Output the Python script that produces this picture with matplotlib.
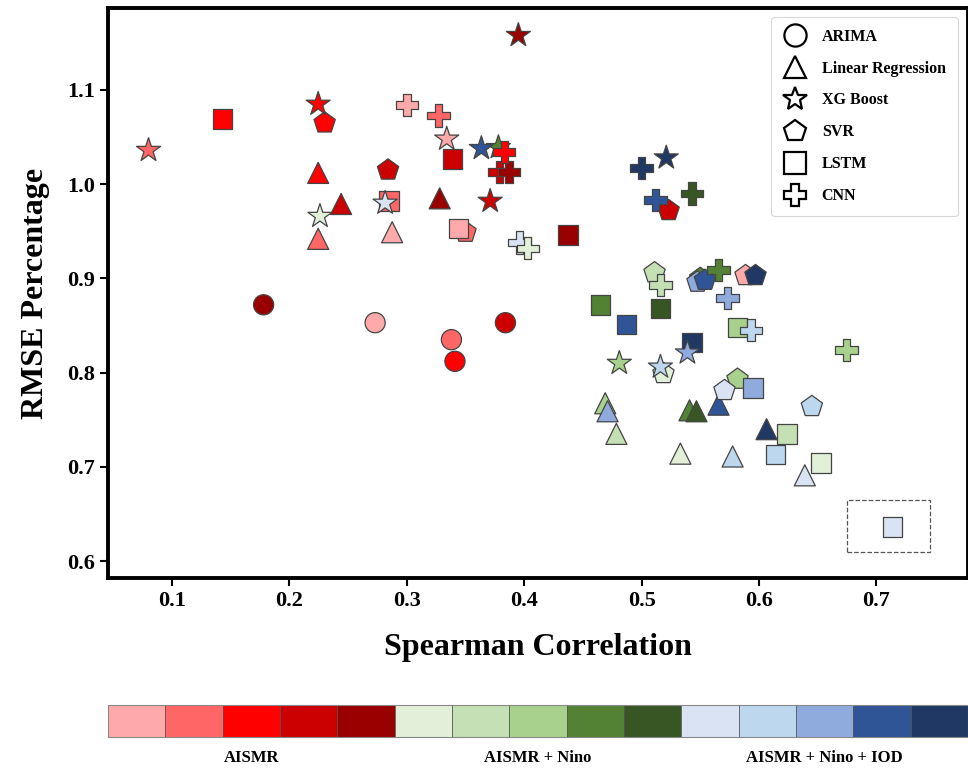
import matplotlib
matplotlib.use("Agg")
import matplotlib.pyplot as plt
import matplotlib as mpl
from matplotlib.colors import ListedColormap, BoundaryNorm
from matplotlib.lines import Line2D
from matplotlib.patches import Rectangle

plt.rcParams["font.family"] = ["Liberation Serif", "DejaVu Serif"]
plt.rcParams["font.weight"] = "bold"

# 15 colour shades: 5 for each input set
palette = [
    "#FFAAAA", "#FF6666", "#FF0000", "#CC0000", "#990000",
    "#E2F0D9", "#C5E0B4", "#A9D18E", "#548235", "#375623",
    "#DAE3F3", "#BDD7EE", "#8FAADC", "#2F5597", "#203864",
]
group_labels = ["AISMR", "AISMR + Nino", "AISMR + Nino + IOD"]

# ARIMA
arima_x = [0.178, 0.273, 0.338, 0.341, 0.384]
arima_y = [0.872, 0.853, 0.835, 0.812, 0.853]
arima_c = [4, 0, 1, 2, 3]

# Linear Regression
lr_x = [0.2245, 0.2245, 0.244, 0.2875, 0.328, 0.469, 0.471, 0.4785, 0.533,
        0.5408, 0.5467, 0.5655, 0.5775, 0.6064, 0.639]
lr_y = [1.012, 0.942, 0.979, 0.949, 0.985, 0.7675, 0.759, 0.735, 0.714,
        0.760, 0.759, 0.766, 0.711, 0.740, 0.691]
lr_c = [2, 1, 3, 0, 4, 7, 12, 6, 5, 8, 9, 13, 11, 14, 10]

# SVR
svr_x = [0.230, 0.284, 0.350, 0.523, 0.5885, 0.511, 0.5186, 0.5817, 0.550,
         0.5476, 0.554, 0.597, 0.5706, 0.645]
svr_y = [1.065, 1.015, 0.949, 0.972, 0.903, 0.906, 0.799, 0.793, 0.900,
         0.896, 0.898, 0.903, 0.781, 0.764]
svr_c = [2, 3, 1, 3, 0, 6, 5, 7, 8, 12, 13, 14, 10, 11]

# LSTM
lstm_x = [0.143, 0.285, 0.339, 0.344, 0.4375, 0.465, 0.516, 0.5817, 0.624,
          0.653, 0.487, 0.543, 0.595, 0.614, 0.7138]
lstm_y = [1.069, 0.982, 1.027, 0.953, 0.946, 0.872, 0.868, 0.848, 0.735,
          0.704, 0.851, 0.832, 0.7835, 0.713, 0.636]
lstm_c = [2, 1, 3, 0, 4, 8, 9, 7, 6, 5, 13, 14, 12, 11, 10]

# XG Boost
xgb_x = [0.080, 0.2245, 0.334, 0.371, 0.395, 0.226, 0.378, 0.481,
         0.2815, 0.3635, 0.521, 0.516, 0.539]
xgb_y = [1.036, 1.085, 1.048, 0.982, 1.158, 0.966, 1.039, 0.810,
         0.980, 1.038, 1.028, 0.806, 0.821]
xgb_c = [1, 2, 0, 3, 4, 5, 8, 7, 10, 13, 14, 11, 12]

# CNN
cnn_x = [0.300, 0.327, 0.379, 0.387, 0.383, 0.396, 0.403, 0.516, 0.6746,
         0.543, 0.5655, 0.500, 0.5118, 0.573, 0.593]
cnn_y = [1.084, 1.073, 1.013, 1.013, 1.034, 0.938, 0.932, 0.893, 0.824,
         0.990, 0.909, 1.017, 0.983, 0.879, 0.845]
cnn_c = [0, 1, 3, 4, 2, 10, 5, 6, 7, 9, 8, 14, 13, 12, 11]

models = [
    ("ARIMA", "o", arima_x, arima_y, arima_c, 210),
    ("Linear Regression", "^", lr_x, lr_y, lr_c, 230),
    ("SVR", "p", svr_x, svr_y, svr_c, 260),
    ("LSTM", "s", lstm_x, lstm_y, lstm_c, 200),
    ("XG Boost", "*", xgb_x, xgb_y, xgb_c, 330),
    ("CNN", "P", cnn_x, cnn_y, cnn_c, 260),
]
legend_order = ["ARIMA", "Linear Regression", "XG Boost", "SVR", "LSTM", "CNN"]

fig = plt.figure(figsize=(9.68, 7.71), dpi=100)
ax = fig.add_axes([0.1116, 0.2503, 0.8884, 0.7393])

for name, marker, xs, ys, cs, size in models:
    ax.scatter(xs, ys, s=size, marker=marker, c=[palette[i] for i in cs],
               edgecolors="#444444", linewidths=0.9, zorder=3)

# dashed box around best point
ax.add_patch(Rectangle((0.675, 0.610), 0.071, 0.0545, fill=False,
                       linestyle="--", edgecolor="#555555", linewidth=0.9, zorder=2))

ax.set_xlim(0.0455, 0.778)
ax.set_ylim(0.582, 1.187)
ax.set_xticks([0.1, 0.2, 0.3, 0.4, 0.5, 0.6, 0.7])
ax.set_yticks([0.6, 0.7, 0.8, 0.9, 1.0, 1.1])
ax.set_xticklabels(["0.1", "0.2", "0.3", "0.4", "0.5", "0.6", "0.7"])
ax.set_yticklabels(["0.6", "0.7", "0.8", "0.9", "1.0", "1.1"])
ax.tick_params(axis="both", labelsize=16, length=6, width=1.5, direction="out")
for lbl in ax.get_xticklabels() + ax.get_yticklabels():
    lbl.set_fontweight("bold")
for sp in ax.spines.values():
    sp.set_linewidth(2.8)
    sp.set_color("black")

ax.set_xlabel("Spearman Correlation", fontsize=23, fontweight="bold", labelpad=16)
ax.set_ylabel("RMSE Percentage", fontsize=23, fontweight="bold", labelpad=12)

handles = []
markers = {m[0]: m[1] for m in models}
for name in legend_order:
    handles.append(Line2D([0], [0], marker=markers[name], linestyle="none",
                          markerfacecolor="white", markeredgecolor="black",
                          markeredgewidth=1.6, markersize=16 if markers[name] != "*" else 18,
                          label=name))
leg = ax.legend(handles=handles, loc="upper right", bbox_to_anchor=(0.988, 0.985),
                borderaxespad=0, prop={"size": 11.5, "weight": "bold"}, labelspacing=1.0,
                handletextpad=0.9, borderpad=0.75, frameon=True, fancybox=True,
                handlelength=1.5)
leg.get_frame().set_edgecolor("#cccccc")
leg.get_frame().set_linewidth(0.8)

# colour bar with 15 cells
cax = fig.add_axes([0.1116, 0.0441, 0.8884, 0.0415])
cmap = ListedColormap(palette)
norm = BoundaryNorm(list(range(16)), cmap.N)
cb = mpl.colorbar.ColorbarBase(cax, cmap=cmap, norm=norm, orientation="horizontal",
                               drawedges=True)
cb.minorticks_off()
cb.set_ticks([])
cax.tick_params(which="both", length=0, labelbottom=False)
cb.outline.set_edgecolor("#888888")
cb.outline.set_linewidth(0.8)
cb.dividers.set_color("#555555")
cb.dividers.set_linewidth(0.6)

for k, lab in enumerate(group_labels):
    cx = 0.1116 + 0.8884 * (2.5 + 5 * k) / 15
    fig.text(cx, 0.017, lab, ha="center", va="center", fontsize=12, fontweight="bold")

fig.savefig("out.png", dpi=100, facecolor="white")
